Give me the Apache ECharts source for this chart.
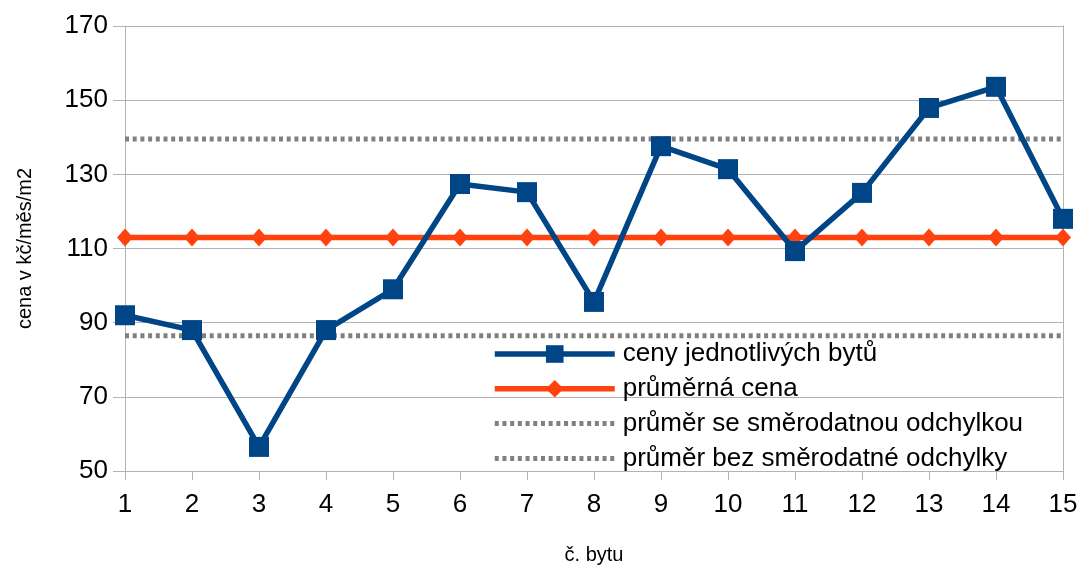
<!DOCTYPE html>
<html>
<head>
<meta charset="utf-8">
<script src="https://cdn.jsdelivr.net/npm/echarts@6/dist/echarts.min.js"></script>
<style>
  html, body { margin: 0; padding: 0; background: #fff; }
  #chart { width: 1080px; height: 565px; }
</style>
</head>
<body>
<div id="chart"></div>
<script>
// data
const byty = ['1', '2', '3', '4', '5', '6', '7', '8', '9', '10', '11', '12', '13', '14', '15']
const cenyBytu = [92, 88, 56.5, 88, 99, 127.4, 125.2, 95.6, 137.6, 131.4, 109.3, 125, 147.9, 153.6, 118]
const prumernaCena = [113, 113, 113, 113, 113, 113, 113, 113, 113, 113, 113, 113, 113, 113, 113]
const sOdchylkou = [139.5, 139.5, 139.5, 139.5, 139.5, 139.5, 139.5, 139.5, 139.5, 139.5, 139.5, 139.5, 139.5, 139.5, 139.5]
const bezOdchylky = [86.5, 86.5, 86.5, 86.5, 86.5, 86.5, 86.5, 86.5, 86.5, 86.5, 86.5, 86.5, 86.5, 86.5, 86.5]

const font = 'Liberation Sans'
const axisGray = '#b3b3b3'
const dotGray = '#808080'

const chart = echarts.init(document.getElementById('chart'))

const options = {
  animation: false,
  textStyle: { fontFamily: font },
  grid: {
    left: 125,
    right: 17,
    top: 26,
    bottom: 94,
    outerBoundsMode: 'none',
    containLabel: false
  },
  legend: {
    orient: 'vertical',
    left: 487,
    top: 336,
    itemWidth: 120,
    itemHeight: 22,
    itemGap: 8.8,
    textStyle: { fontFamily: font, fontSize: 26, color: '#000', padding: [0, 0, 0, 3] },
    data: [
      { name: 'ceny jednotlivých bytů', lineStyle: { width: 5.5 } },
      { name: 'průměrná cena', lineStyle: { width: 5.5 } },
      // dotted lines only, the symbol is hidden
      { name: 'průměr se směrodatnou odchylkou', itemStyle: { opacity: 0 }, lineStyle: { width: 5 } },
      { name: 'průměr bez směrodatné odchylky', itemStyle: { opacity: 0 }, lineStyle: { width: 5 } }
    ]
  },
  xAxis: {
    type: 'category',
    data: byty,
    boundaryGap: false,
    name: 'č. bytu',
    nameLocation: 'middle',
    nameGap: 74,
    nameTextStyle: { fontFamily: font, fontSize: 20, color: '#000' },
    axisLine: { lineStyle: { color: axisGray, width: 1 } },
    axisTick: { show: true, alignWithLabel: true, length: 9, lineStyle: { color: axisGray } },
    axisLabel: { fontFamily: font, fontSize: 26, color: '#000', margin: 21 },
    splitLine: { show: false }
  },
  yAxis: [
    {
      type: 'value',
      min: 50,
      max: 170,
      interval: 20,
      name: 'cena v kč/měs/m2',
      nameLocation: 'middle',
      nameGap: 90,
      nameTextStyle: { fontFamily: font, fontSize: 20, color: '#000' },
      axisLine: { show: true, lineStyle: { color: axisGray } },
      axisTick: { show: true, length: 12, lineStyle: { color: axisGray } },
      axisLabel: { fontFamily: font, fontSize: 26, color: '#000', margin: 17 },
      splitLine: { show: true, lineStyle: { color: axisGray, width: 1 } }
    },
    {
      type: 'value',
      position: 'right',
      min: 50,
      max: 170,
      interval: 20,
      axisLine: { show: true, lineStyle: { color: axisGray } },
      axisTick: { show: false },
      axisLabel: { show: false },
      splitLine: { show: false }
    }
  ],
  series: [
    {
      name: 'průměr se směrodatnou odchylkou',
      type: 'line',
      data: sOdchylkou,
      symbol: 'none',
      z: 1,
      itemStyle: { color: dotGray },
      lineStyle: { color: dotGray, width: 5, type: [4, 3.7] }
    },
    {
      name: 'průměr bez směrodatné odchylky',
      type: 'line',
      data: bezOdchylky,
      symbol: 'none',
      z: 1,
      itemStyle: { color: dotGray },
      lineStyle: { color: dotGray, width: 5, type: [4, 3.7] }
    },
    {
      name: 'průměrná cena',
      type: 'line',
      data: prumernaCena,
      symbol: 'diamond',
      symbolSize: [16, 18],
      z: 2,
      itemStyle: { color: '#ff420e' },
      lineStyle: { color: '#ff420e', width: 5.5 }
    },
    {
      name: 'ceny jednotlivých bytů',
      type: 'line',
      data: cenyBytu,
      symbol: 'rect',
      symbolSize: 20,
      z: 3,
      itemStyle: { color: '#004586' },
      lineStyle: { color: '#004586', width: 5.5 }
    }
  ]
}

chart.setOption(options)
</script>
</body>
</html>
